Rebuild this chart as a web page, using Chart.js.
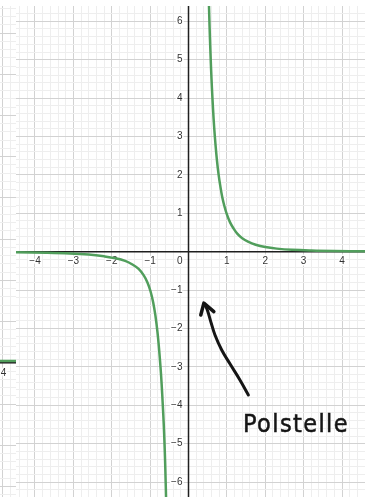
<!DOCTYPE html>
<html>
<head>
<meta charset="utf-8">
<script src="https://cdn.jsdelivr.net/npm/chart.js@4.4.1/dist/chart.umd.min.js"></script>
<style>
  html, body { margin: 0; padding: 0; background: #fff; overflow: hidden; }
  #wrap { position: relative; width: 365px; height: 497px; }
  #strip { position: absolute; left: 0; top: 6px; }
  #main { position: absolute; left: 16px; top: 6px; }
  #note { position: absolute; left: 243px; top: 411px; font: 25px 'DejaVu Sans Condensed', 'DejaVu Sans', sans-serif;
          letter-spacing: 1.4px; color: #151515; line-height: 25px; -webkit-text-stroke: 0.5px #151515; }
</style>
</head>
<body>
<div id="wrap">
  <canvas id="strip" width="16" height="491"></canvas>
  <canvas id="main" width="349" height="491"></canvas>
  <div id="note">Polstelle</div>
</div>
<script>
/* Graph mit Polstelle bei x = 0: zwei Äste, Gitter im Desmos-Stil (Haupt-/Nebenlinien),
   Achsen und Beschriftung per Plugin über die Chart.js-Skalen. Links ein Rest eines zweiten Graphen. */

// ---- Achsenbeschriftung ----
const xLabels = [-4, -3, -2, -1, 1, 2, 3, 4];
const yLabels = [-6, -5, -4, -3, -2, -1, 1, 2, 3, 4, 5, 6];

// ---- rechter Ast (x > 0) ----
const rightX = [0.532, 0.55, 0.57, 0.59, 0.61, 0.64, 0.67, 0.70, 0.74, 0.78, 0.83, 0.88, 0.94, 1.00, 1.08, 1.17, 1.27, 1.40, 1.55, 1.75, 2.00, 2.30, 2.70, 3.20, 3.80, 4.60];
const rightY = [6.45, 5.83, 5.24, 4.72, 4.27, 3.70, 3.22, 2.83, 2.39, 2.04, 1.70, 1.42, 1.17, 0.97, 0.77, 0.61, 0.47, 0.35, 0.26, 0.18, 0.12, 0.08, 0.049, 0.03, 0.018, 0.01];

// ---- linker Ast (x < 0) ----
const leftX = [-4.50, -3.70, -3.10, -2.60, -2.20, -1.90, -1.65, -1.45, -1.30, -1.17, -1.07, -0.99, -0.92, -0.86, -0.81, -0.77, -0.73, -0.70, -0.67, -0.645, -0.625, -0.61, -0.595, -0.585];
const leftY = [-0.015, -0.027, -0.045, -0.075, -0.12, -0.17, -0.24, -0.34, -0.45, -0.61, -0.80, -1.03, -1.32, -1.68, -2.08, -2.50, -3.00, -3.45, -4.00, -4.50, -5.00, -5.45, -6.00, -6.40];

// ---- Pfeil zur Polstelle ----
const arrowX = [1.56, 1.34, 1.08, 0.865, 0.69, 0.58, 0.49, 0.43];
const arrowY = [-3.73, -3.34, -2.92, -2.56, -2.17, -1.82, -1.52, -1.39];
const headX = [0.32, 0.40, 0.66];
const headY = [-1.65, -1.34, -1.56];

// ---- Randstück links ----
const stripX = [-4.07, -3.66];
const stripY = [0.045, 0.045];
const stripLabels = [-4];

const GREEN = '#519e5c', INK = '#151515';
const MAJOR = '#d2d2d2', MINOR = '#eeeeee', AXIS = '#1f1f1f';

const pts = (xs, ys) => xs.map((x, i) => ({ x, y: ys[i] }));
const fmt = (v) => String(v).replace('-', '\u2212');

// Gitterlinien alle 0.2, ganze Zahlen kräftiger; die Null zeichnet das Achsen-Plugin
function fifths(min, max) {
  const v = [];
  for (let k = Math.ceil(min * 5 - 1e-9); k <= Math.floor(max * 5 + 1e-9); k++) v.push(k / 5);
  return v;
}
function gridColor(v) {
  if (Math.abs(v) < 1e-9) return 'rgba(0,0,0,0)';
  return Math.abs(v - Math.round(v)) < 1e-9 ? MAJOR : MINOR;
}
function gridScale(min, max) {
  return {
    type: 'linear', min, max,
    afterBuildTicks: (axis) => { axis.ticks = fifths(min, max).map((value) => ({ value })); },
    ticks: { display: false },
    grid: { drawTicks: false, lineWidth: 1, color: (c) => gridColor(c.tick.value) },
    border: { display: false },
  };
}

const axesPlugin = {
  id: 'axesLabels',
  beforeDatasetsDraw(chart, args, opts) {
    const { ctx, chartArea: a, scales: { x, y } } = chart;
    const x0 = x.getPixelForValue(0), y0 = y.getPixelForValue(0);
    ctx.save();
    ctx.strokeStyle = AXIS;
    ctx.lineWidth = 1.5;
    ctx.beginPath();
    ctx.moveTo(a.left, y0); ctx.lineTo(a.right, y0);
    if (opts.yAxis) { ctx.moveTo(x0, a.top); ctx.lineTo(x0, a.bottom); }
    ctx.stroke();

    ctx.font = '10px "Liberation Sans", Arial, sans-serif';
    ctx.textBaseline = 'middle';
    ctx.lineWidth = 3;
    ctx.strokeStyle = '#fff';
    ctx.fillStyle = '#333';
    const text = (s, px, py) => { ctx.strokeText(s, px, py); ctx.fillText(s, px, py); };
    ctx.textAlign = 'center';
    const dx = opts.labelShift || 0;
    (opts.xLabels || []).forEach((v) => text(fmt(v), x.getPixelForValue(v) + dx, y0 + 10));
    ctx.textAlign = 'right';
    (opts.yLabels || []).forEach((v) => text(fmt(v), x0 - 6, y.getPixelForValue(v)));
    if (opts.origin) text('0', x0 - 6, y0 + 10);
    ctx.restore();
  },
};

const base = {
  responsive: false, animation: false, events: [], devicePixelRatio: 1,
  layout: { padding: 0 },
};

new Chart(document.getElementById('main'), {
  type: 'scatter',
  data: {
    datasets: [
      { data: pts(rightX, rightY), showLine: true, borderColor: GREEN, borderWidth: 2.5, pointRadius: 0, tension: 0.4 },
      { data: pts(leftX, leftY), showLine: true, borderColor: GREEN, borderWidth: 2.5, pointRadius: 0, tension: 0.4 },
      { data: pts(arrowX, arrowY), showLine: true, borderColor: INK, borderWidth: 3, pointRadius: 0, tension: 0.4, borderCapStyle: 'round' },
      { data: pts(headX, headY), showLine: true, borderColor: INK, borderWidth: 3.5, pointRadius: 0, borderCapStyle: 'round', borderJoinStyle: 'round' },
    ],
  },
  options: {
    ...base,
    plugins: {
      legend: { display: false }, tooltip: { enabled: false },
      axesLabels: { xLabels, yLabels, yAxis: true, origin: true },
    },
    scales: { x: gridScale(-4.495, 4.599), y: gridScale(-6.388, 6.398) },
  },
  plugins: [axesPlugin],
});

new Chart(document.getElementById('strip'), {
  type: 'scatter',
  data: {
    datasets: [
      { data: pts(stripX, stripY), showLine: true, borderColor: GREEN, borderWidth: 2.5, pointRadius: 0 },
    ],
  },
  options: {
    ...base,
    plugins: {
      legend: { display: false }, tooltip: { enabled: false },
      axesLabels: { xLabels: stripLabels, yAxis: false, labelShift: -2 },
    },
    scales: { x: gridScale(-4.0607, -3.6723), y: gridScale(-3.256, 8.656) },
  },
  plugins: [axesPlugin],
});
</script>
</body>
</html>
